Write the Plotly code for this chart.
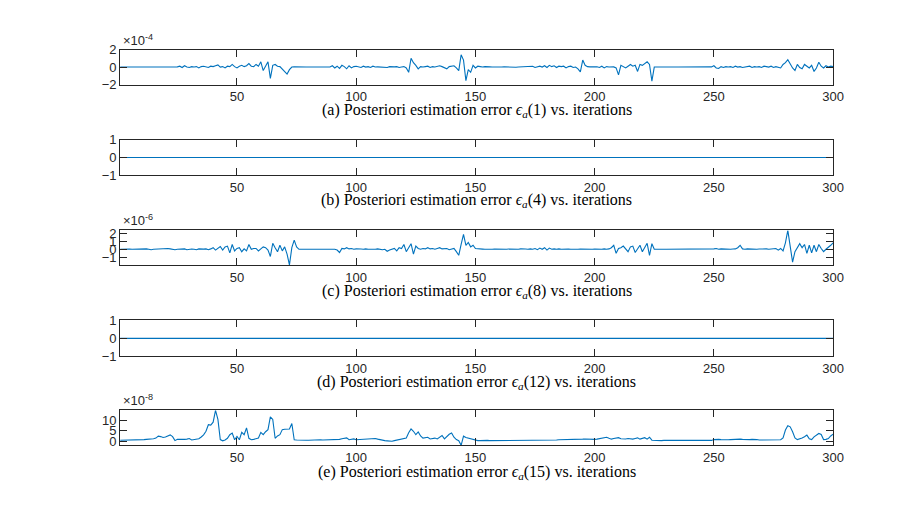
import plotly.graph_objects as go

# iterations 1..300
iterations = list(range(1, 301))

# posteriori error eps_a(1), in units of 1e-4
err1 = [
    0, 0, 0, 0.01, 0, 0, -0.01, 0, 0.01, 0, 0, 0, 0.01, 0, 0, 0, -0.01, 0, 0.01, 0,
    0, 0.01, 0, 0, 0.02, 0.1, -0.05, 0.15, 0, -0.05, 0.05, 0, 0.05, -0.1, 0.05, 0.1, 0, -0.05, 0.1, 0.05,
    0.15, 0.25, 0, 0.05, -0.1, 0.1, 0.05, 0.3, 0.05, -0.1, 0.1, 0.2, 0.05, 0.15, 0.4, 0.1, 0.05, 0.3, 0.1, 0.6,
    -0.4, 0.2, 0.6, -1.3, 0.2, 0.3, 0.1, 0.05, -0.2, -0.45, -0.8, -0.3, 0, 0.02, 0, 0, 0.01, 0, 0, 0.01,
    0, 0, 0, 0.01, 0, 0, 0, 0.02, 0, 0.15, -0.1, 0.1, -0.15, 0.2, 0.05, -0.2, 0.15, -0.1, 0.05, 0.1,
    0, -0.05, 0.1, 0, 0.05, -0.05, 0.1, 0, 0.02, 0, 0.05, 0, -0.05, 0.05, 0, 0.02, 0.05, -0.05, 0, 0.05,
    -0.1, -0.6, 1.0, 0.5, 0.2, -0.2, 0.05, 0, 0.05, 0.1, -0.05, 0.05, 0, 0.1, 0.15, 0.05, -0.1, -0.2, 0.05, 0.1,
    0.15, -0.1, -0.4, 1.4, 0.8, -1.55, -0.3, -0.6, 0.2, -0.1, 0.1, 0.05, 0, 0.05, 0, 0.02, 0, -0.02, 0, 0.01,
    0, 0.02, 0, 0, 0.01, 0, -0.02, 0, 0.01, 0, 0.02, 0, 0.05, 0.1, -0.05, 0.05, 0.1, 0, 0.15, -0.05,
    0.2, 0.05, 0.15, -0.05, 0.1, 0.05, 0.1, -0.1, 0.05, 0.1, -0.05, 0, -0.2, -0.55, 0.8, 0.2, 0.05, 0.02, 0.05, 0,
    0.03, -0.05, 0.1, -0.1, 0.05, 0, 0.05, 0.02, -0.1, -0.9, 0.2, 0.05, -0.1, 0.1, 0.3, 0.1, 0.2, -0.5, 0.3, 0.2,
    0.45, 0.6, 0.3, -1.6, 0, 0.01, 0, 0, 0.01, 0, 0, 0, 0.01, 0, 0, 0, 0, 0.01, 0, 0,
    0, 0.01, 0, 0, 0, 0.01, 0, 0, 0.02, 0.15, -0.1, -0.15, 0.05, -0.05, 0.05, 0, 0.05, -0.05, 0.1, 0,
    0.05, -0.05, 0, 0.05, 0.1, -0.05, 0.05, 0, 0.05, -0.05, 0.1, 0.05, 0, 0.1, -0.05, 0.05, 0, -0.1, 0.3, 0.5,
    0.85, 0.3, -0.1, -0.4, 0.3, -0.05, -0.2, 0.3, 0.1, -0.1, 0.2, -0.5, -0.1, 0.55, 0.1, -0.1, 0.15, 0, 0.1, 0.05,
]

# eps_a(4) and eps_a(12) stay at zero
err4 = [0.0] * 300
err12 = [0.0] * 300

# eps_a(8), in units of 1e-6
err8 = [
    0, 0.02, 0, -0.02, 0.03, 0, 0.02, 0, -0.03, 0, 0.02, 0.05, 0, -0.05, 0, 0.03, 0.05, 0, 0.05, 0.08,
    0.1, 0.05, 0, -0.05, 0, 0.03, 0, 0.05, -0.05, 0, 0.03, 0, -0.05, 0.05, 0, 0.02, 0.05, -0.05, 0.05, 0.2,
    -0.1, 0.1, 0.35, -0.1, 0.3, 0.4, -0.45, 0.6, -0.2, 0.1, 0.2, -0.3, 0.05, -0.2, 0.6, 0, 0.1, 0.1, -0.2, 0.05,
    0.3, 0.2, -0.1, -0.9, 0.75, 0.2, -0.3, 0.5, -0.2, 0.3, -0.6, -1.95, 0.2, 1.15, 0.3, 0, 0.02, 0, 0, 0.01,
    0, 0, 0.02, 0, 0, 0.01, 0, 0, 0.02, 0, 0, -0.1, -0.4, 0.1, 0.05, 0.2, 0.05, 0.1, 0, 0.05,
    0, 0.03, 0, 0.05, 0, -0.03, 0.02, 0, 0.05, 0, -0.05, 0, -0.25, -0.1, 0.05, 0.1, -0.2, 0.2, 0.1, 0.6,
    -0.3, 0.3, 0.7, -0.6, 0.4, 0.1, 0, 0.1, 0.05, 0.2, 0.05, 0.1, 0, 0.1, 0.2, 0.05, 0.1, 0.1, -0.05, 0.05,
    0.1, -0.3, -0.75, 0.6, 1.85, 0.5, 0.85, 0.3, 0.5, 0.1, 0.05, 0, 0.02, 0, 0.03, 0, 0, 0.02, 0, 0,
    0.02, 0, 0, 0.03, 0, 0.02, 0, 0, 0.05, 0, 0.03, 0, 0.05, 0, 0.1, -0.05, 0.15, 0, 0.2, -0.1,
    0.15, 0, 0.05, 0, 0.05, 0, 0.03, 0, 0.02, 0, 0.03, 0, 0, 0.02, 0, 0, 0.03, 0, 0, 0.02,
    0, 0.03, 0, 0.05, 0, 0.05, 0.2, 0.5, -0.5, 0.1, 0.2, 0.4, 0.1, -0.3, 0.3, 0.4, -0.4, 0.1, 0.5, -0.3,
    0.2, 0.75, -0.75, 0.7, 0, 0.02, 0, 0, 0.01, 0, 0, 0.02, 0, 0, 0, 0.01, 0, 0, 0.02, 0,
    0, 0.01, 0, 0, 0.02, 0, 0, 0.01, 0, 0.05, 0.1, 0, 0.05, 0.02, 0, 0.05, 0, 0.03, 0.05, 0.2,
    0.5, 0.05, 0, 0.05, 0.02, 0, 0.05, 0, 0.03, 0.05, 0, 0.05, 0, 0.05, 0.02, 0.1, -0.1, 0.1, -0.2, 0.8,
    2.35, 0.1, -1.6, -0.3, 0.3, 0.7, 0.2, 0.6, -0.5, 0.5, -0.45, 0.5, -0.3, 0.6, 0.1, -0.3, 0, 0.2, 0.5, 0.8,
]

# eps_a(15), in units of 1e-8
err15 = [
    0.5, 0.5, 0.5, 0.6, 0.6, 0.6, 0.7, 0.7, 0.8, 0.8, 0.8, 0.9, 0.9, 1.0, 1.2, 1.5, 2.4, 2.2, 1.8, 2.0,
    2.6, 3.0, 2.2, 0.3, 0.9, 0.8, 0.8, 0.9, 1.0, 1.3, 0.6, 0.8, 0.9, 1.2, 2.0, 3.0, 4.7, 7.8, 7.6, 9.0,
    14.6, 10.3, 0.8, 0.2, 0.6, 1.4, 3.1, 3.9, 0.7, 2.3, 0.7, 4.2, 3.1, 6.3, 1.4, 0.7, 0.9, 1.1, 1.5, 4.2,
    3.1, 4.5, 5.5, 11.5, 10.3, 1.4, 2.5, 3.1, 5.5, 5.7, 5.8, 5.8, 8.4, 0.7, 0.6, 0.5, 0.5, 0.5, 0.5, 0.5,
    0.6, 0.5, 0.6, 0.6, 0.7, 0.6, 0.6, 0.7, 0.7, 0.8, 0.8, 0.9, 0.9, 1.2, 1.5, 1.6, 0.7, 1.0, 1.1, 0.7,
    0.8, 0.9, 1.0, 1.0, 0.9, 1.0, 1.1, 1.3, 1.0, 0.7, 0.5, 0.3, 0.2, 0.1, 0.0, 0.3, 0.6, 0.9, 1.0, 1.2,
    1.5, 4.0, 5.8, 4.7, 3.1, 4.4, 2.5, 1.5, 1.7, 1.9, 1.1, 1.3, 1.5, 1.1, 2.0, 2.7, 1.1, 2.4, 3.3, 3.9,
    1.9, 0.8, 0.3, -1.9, 2.4, 1.8, 1.5, 1.0, 0.6, 0.3, 0.3, 0.3, 0.4, 0.4, 0.4, 0.3, 0.3, 0.4, 0.4, 0.5,
    0.5, 0.3, 0.4, 0.4, 0.4, 0.5, 0.5, 0.4, 0.4, 0.3, 0.3, 0.4, 0.4, 0.5, 0.5, 0.6, 0.5, 0.5, 0.4, 0.5,
    0.6, 0.6, 0.5, 0.6, 0.7, 0.7, 0.8, 0.8, 0.7, 0.8, 0.9, 0.9, 1.0, 1.0, 1.0, 1.1, 1.0, 0.9, 1.0, 0.9,
    1.0, 1.3, 1.6, 1.8, 1.9, 1.4, 1.0, 1.3, 1.5, 1.7, 1.2, 1.0, 1.1, 1.3, 1.1, 1.0, 1.3, 1.6, 1.0, 1.5,
    1.7, 1.0, 1.9, 0.5, 0.4, 0.4, 0.4, 0.3, 0.4, 0.4, 0.4, 0.3, 0.3, 0.4, 0.4, 0.4, 0.4, 0.3, 0.4, 0.4,
    0.4, 0.4, 0.4, 0.3, 0.3, 0.4, 0.4, 0.4, 0.4, 0.8, 1.0, 0.9, 0.8, 0.7, 0.6, 0.7, 0.8, 0.9, 1.1, 1.2,
    1.0, 0.9, 0.8, 0.7, 0.8, 0.9, 1.0, 0.8, 0.6, 0.6, 0.7, 0.6, 0.6, 0.5, 0.6, 0.6, 0.6, 0.7, 1.6, 5.3,
    7.3, 6.8, 4.5, 1.6, 0.8, 1.0, 1.5, 2.1, 2.9, 1.2, 0.8, 2.1, 3.0, 3.7, 3.2, 0.8, 0.9, 1.3, 2.5, 3.4,
]

labels = ['(a)', '(b)', '(c)', '(d)', '(e)']
indices = ['1', '4', '8', '12', '15']
exponents = ['-4', None, '-6', None, '-8']
series = [err1, err4, err8, err12, err15]
yticks = [[-2, 0, 2], [-1, 0, 1], [-1, 0, 1, 2], [-1, 0, 1], [0, 5, 10]]
yranges = [[-2, 2], [-1, 1], [min(err8), max(err8)], [-1, 1], [min(err15), max(err15)]]
xticks = [50, 100, 150, 200, 250, 300]

W, H = 920, 523
# axes boxes in figure pixels (top, bottom)
boxes = [(35.6, 71.6), (128.2, 165.2), (221.8, 257.3), (314.4, 351.4), (407, 443)]
caption_y = [98.4, 190.9, 284.5, 378.2, 470.8]
x0, x1 = 113.5, 835.1

axis_col = '#262626'
line_col = '#0072BD'
tick_font = dict(family='Liberation Sans, Arial, sans-serif', size=13, color=axis_col)
cap_font = dict(family='Liberation Serif, Times New Roman, serif', size=16, color='black')

fig = go.Figure()
layout = {}
annotations = []

for k in range(5):
    n = '' if k == 0 else str(k + 1)
    fig.add_trace(go.Scatter(x=iterations, y=series[k], mode='lines',
                             line=dict(color=line_col, width=1.1),
                             xaxis='x' + n, yaxis='y' + n, showlegend=False))
    top, bot = boxes[k]
    common = dict(showline=True, linecolor=axis_col, linewidth=1, mirror='ticks',
                  ticks='inside', ticklen=7, tickcolor=axis_col, tickwidth=1,
                  showgrid=False, zeroline=False, tickfont=tick_font)
    layout['xaxis' + n] = dict(domain=[x0 / W, x1 / W], range=[1, 300],
                               tickvals=xticks, anchor='y' + n, **common)
    layout['yaxis' + n] = dict(domain=[1 - bot / H, 1 - top / H], range=yranges[k],
                               tickvals=yticks[k], anchor='x' + n, **common)
    cap = (labels[k] + ' Posteriori estimation error <i>ϵ</i><sub><i>a</i></sub>('
           + indices[k] + ') vs. iterations')
    annotations.append(dict(text=cap, x=(x0 + x1) / 2 / W, y=1 - caption_y[k] / H,
                            xref='paper', yref='paper', showarrow=False,
                            xanchor='center', yanchor='middle', font=cap_font))
    if exponents[k]:
        annotations.append(dict(text='×10<sup>' + exponents[k] + '</sup>',
                                x=(x0 + 1) / W, y=1 - top / H, xref='paper', yref='paper',
                                showarrow=False, xanchor='left', yanchor='bottom',
                                font=tick_font))

fig.update_layout(width=W, height=H, margin=dict(l=0, r=0, t=0, b=0),
                  paper_bgcolor='white', plot_bgcolor='white',
                  annotations=annotations, **layout)

fig.write_html("out.html")
